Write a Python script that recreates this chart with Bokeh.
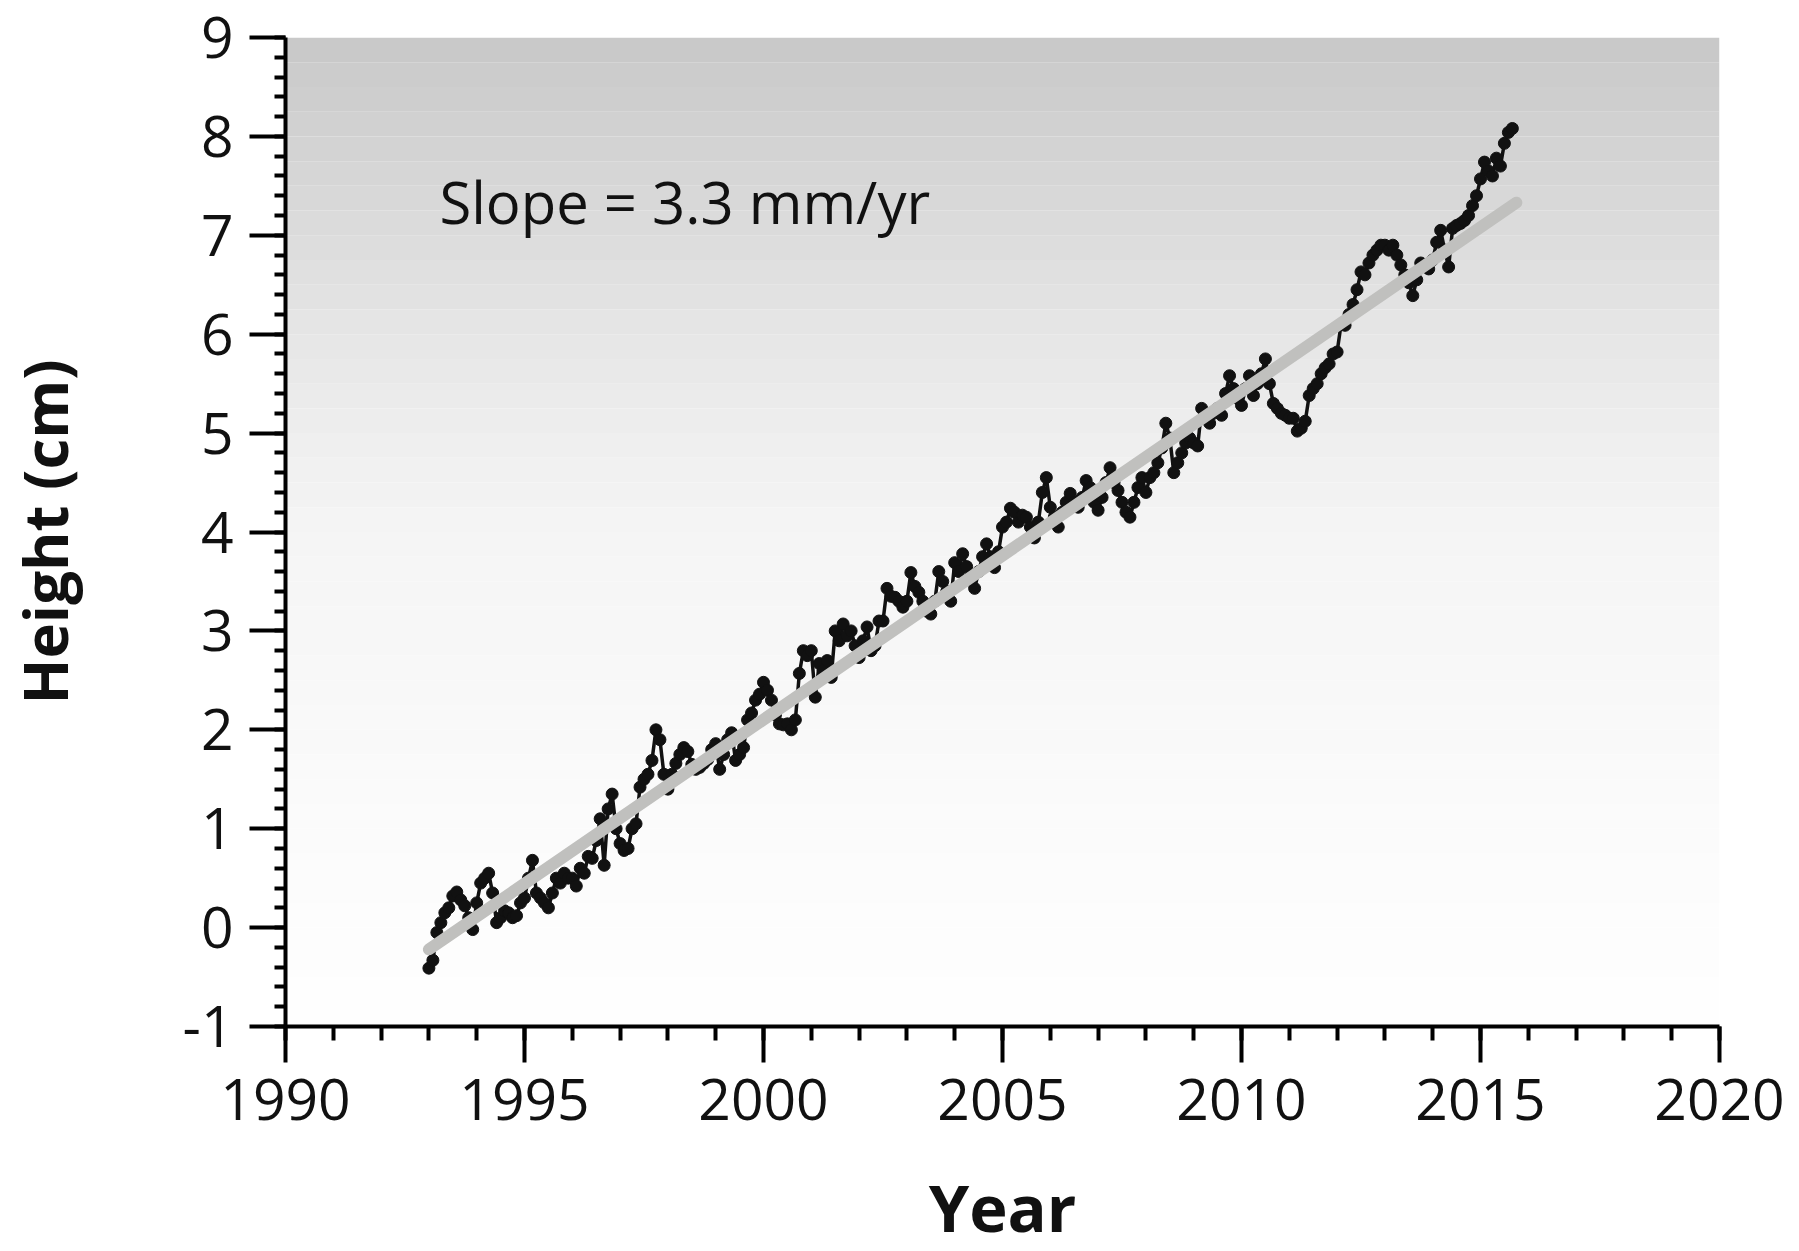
from bokeh.plotting import figure
from bokeh.models import Range1d, SingleIntervalTicker, Label, ColumnDataSource, PrintfTickFormatter
from bokeh.embed import file_html
from bokeh.resources import INLINE

# ---------------- data ----------------
start_year = 1993.0          # first monthly sample
months_per_year = 12
height_cm = [
    # 1993
    -0.41, -0.33, -0.05, 0.05, 0.15, 0.20, 0.32, 0.36, 0.28, 0.22, 0.10, -0.02,
    # 1994
    0.25, 0.45, 0.50, 0.55, 0.35, 0.05, 0.10, 0.17, 0.15, 0.10, 0.12, 0.25,
    # 1995
    0.30, 0.50, 0.68, 0.35, 0.30, 0.25, 0.20, 0.35, 0.50, 0.45, 0.55, 0.50,
    # 1996
    0.50, 0.42, 0.60, 0.55, 0.72, 0.70, 0.88, 1.10, 0.63, 1.20, 1.35, 1.00,
    # 1997
    0.85, 0.78, 0.80, 1.00, 1.05, 1.42, 1.50, 1.55, 1.69, 2.00, 1.90, 1.55,
    # 1998
    1.40, 1.55, 1.66, 1.75, 1.82, 1.78, 1.65, 1.60, 1.62, 1.66, 1.70, 1.80,
    # 1999
    1.86, 1.60, 1.75, 1.90, 1.97, 1.69, 1.75, 1.82, 2.10, 2.17, 2.30, 2.36,
    # 2000
    2.48, 2.40, 2.30, 2.15, 2.06, 2.05, 2.06, 2.00, 2.10, 2.57, 2.80, 2.75,
    # 2001
    2.80, 2.33, 2.67, 2.60, 2.70, 2.53, 3.00, 2.90, 3.07, 2.95, 3.00, 2.85,
    # 2002
    2.73, 2.90, 3.04, 2.80, 2.85, 3.10, 3.10, 3.43, 3.35, 3.34, 3.30, 3.24,
    # 2003
    3.30, 3.59, 3.45, 3.39, 3.30, 3.20, 3.17, 3.30, 3.60, 3.50, 3.40, 3.30,
    # 2004
    3.69, 3.60, 3.78, 3.65, 3.55, 3.43, 3.60, 3.75, 3.88, 3.75, 3.64, 3.80,
    # 2005
    4.05, 4.10, 4.24, 4.20, 4.10, 4.17, 4.15, 4.05, 3.94, 4.10, 4.40, 4.55,
    # 2006
    4.25, 4.15, 4.05, 4.20, 4.30, 4.39, 4.30, 4.25, 4.35, 4.52, 4.45, 4.30,
    # 2007
    4.22, 4.35, 4.50, 4.65, 4.50, 4.42, 4.30, 4.20, 4.15, 4.30, 4.45, 4.55,
    # 2008
    4.40, 4.55, 4.60, 4.70, 4.85, 5.10, 4.95, 4.60, 4.70, 4.80, 4.90, 4.95,
    # 2009
    4.90, 4.87, 5.25, 5.15, 5.10, 5.20, 5.25, 5.18, 5.40, 5.58, 5.45, 5.35,
    # 2010
    5.28, 5.45, 5.58, 5.38, 5.50, 5.60, 5.75, 5.50, 5.30, 5.25, 5.20, 5.18,
    # 2011
    5.15, 5.15, 5.02, 5.05, 5.12, 5.38, 5.45, 5.50, 5.60, 5.66, 5.70, 5.80,
    # 2012
    5.82, 6.10, 6.09, 6.20, 6.30, 6.45, 6.63, 6.60, 6.72, 6.80, 6.85, 6.90,
    # 2013
    6.90, 6.85, 6.90, 6.80, 6.70, 6.60, 6.52, 6.39, 6.55, 6.72, 6.70, 6.66,
    # 2014
    6.75, 6.93, 7.05, 6.85, 6.68, 7.07, 7.10, 7.12, 7.15, 7.20, 7.30, 7.40,
    # 2015
    7.57, 7.74, 7.65, 7.60, 7.78, 7.70, 7.93, 8.04, 8.08,
]
years = [start_year + i / months_per_year for i in range(len(height_cm))]

trend_years = [1993.0, 2015.75]
trend_cm = [-0.22, 7.33]

x_ticks_interval = 5
y_ticks_interval = 1
x_limits = (1990, 2020)
y_limits = (-1, 9)

slope_text = "Slope = 3.3 mm/yr"
slope_pos = (1993.22, 7.34)

x_title = "Year"
y_title = "Height (cm)"

# background gradient anchors (value -> gray level)
grad_v = [-1, 0, 1, 2, 3, 4, 5, 6, 7, 8, 9]
grad_gray = [254, 253, 251, 249, 247, 245, 238, 230, 220, 210, 200]

FONT = "Open Sans"

# ---------------- figure ----------------
p = figure(
    frame_width=1434, frame_height=989,
    x_range=Range1d(*x_limits), y_range=Range1d(*y_limits),
    output_backend="svg", toolbar_location=None,
    min_border_left=284, min_border_right=81,
    min_border_top=37, min_border_bottom=225,
)
p.outline_line_color = None
p.grid.visible = False
p.background_fill_color = "white"
p.border_fill_color = "white"

# gradient bands
n_bands = 40
span = y_limits[1] - y_limits[0]
bl, bt, bc = [], [], []
for i in range(n_bands):
    b = y_limits[0] + span * i / n_bands
    t = y_limits[0] + span * (i + 1) / n_bands
    mid = (b + t) / 2
    g = grad_gray[-1]
    for k in range(len(grad_v) - 1):
        if grad_v[k] <= mid <= grad_v[k + 1]:
            f = (mid - grad_v[k]) / (grad_v[k + 1] - grad_v[k])
            g = int(round(grad_gray[k] + f * (grad_gray[k + 1] - grad_gray[k])))
            break
    bl.append(b)
    bt.append(t)
    bc.append("#%02x%02x%02x" % (g, g, g))
p.quad(left=x_limits[0], right=x_limits[1], bottom=bl, top=bt,
       fill_color=bc, line_color=None)

src = ColumnDataSource(dict(x=years, y=height_cm))
p.line("x", "y", source=src, line_color="#111111", line_width=3.5)
p.scatter("x", "y", source=src, size=12, fill_color="#111111", line_color="#111111")

p.line(trend_years, trend_cm, line_color="#c0c0be", line_width=12, line_cap="round")

p.add_layout(Label(x=slope_pos[0], y=slope_pos[1], text=slope_text,
                   text_font=FONT, text_font_size="58px", text_color="#111111",
                   text_baseline="middle", text_align="left"))

# axes
for ax in (p.xaxis[0], p.yaxis[0]):
    ax.axis_line_width = 4
    ax.axis_line_color = "black"
    ax.major_tick_line_width = 4
    ax.minor_tick_line_width = 4
    ax.major_tick_line_color = "black"
    ax.minor_tick_line_color = "black"
    ax.major_tick_in = 0
    ax.minor_tick_in = 0
    ax.major_tick_out = 36
    ax.major_label_text_font = FONT
    ax.major_label_text_font_size = "57px"
    ax.major_label_text_color = "#111111"
    ax.formatter = PrintfTickFormatter(format="%d")
    ax.axis_label_text_font = FONT
    ax.axis_label_text_font_style = "bold"
    ax.axis_label_text_color = "#111111"

p.xaxis.ticker = SingleIntervalTicker(interval=x_ticks_interval, num_minor_ticks=5)
p.yaxis.ticker = SingleIntervalTicker(interval=y_ticks_interval, num_minor_ticks=5)
p.xaxis.minor_tick_out = 14
p.yaxis.minor_tick_out = 11
p.xaxis.major_label_standoff = 16
p.yaxis.major_label_standoff = 16

p.xaxis.axis_label = x_title
p.xaxis.axis_label_text_font_size = "65px"
p.xaxis.axis_label_standoff = 40
p.yaxis.axis_label = y_title
p.yaxis.axis_label_text_font_size = "60px"
p.yaxis.axis_label_standoff = 94

open("out.html", "w").write(file_html(p, INLINE))
